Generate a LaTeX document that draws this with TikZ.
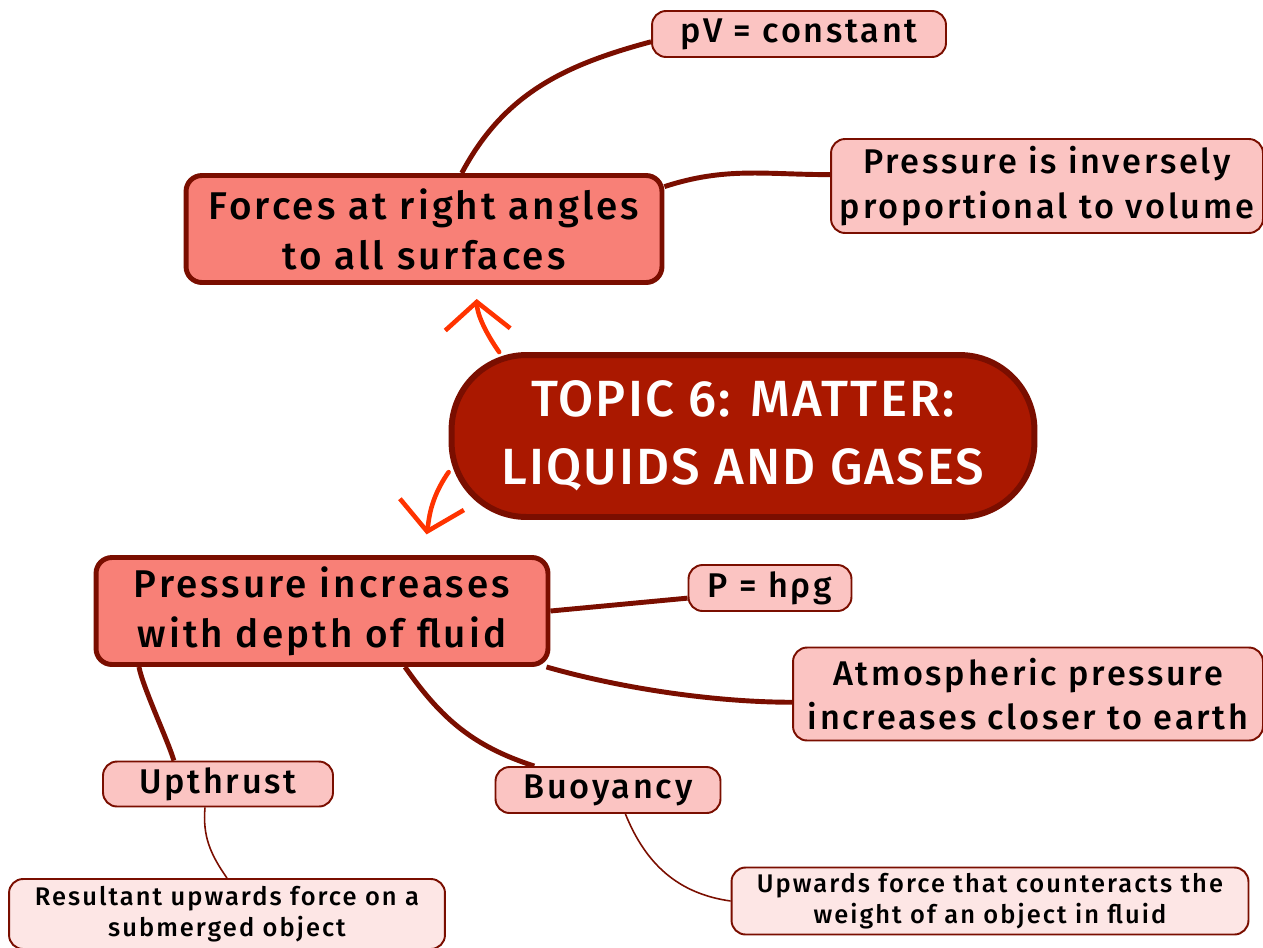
\documentclass[tikz,border=0pt]{standalone}
\usepackage{fontspec}
\setmainfont{Fira Sans}[LetterSpace=8,UprightFont=* Medium]
\usetikzlibrary{arrows.meta,positioning,calc,backgrounds}
\definecolor{maroon}{RGB}{122,14,0}
\definecolor{crimson}{RGB}{170,24,0}
\definecolor{salmon}{RGB}{248,128,119}
\definecolor{blush}{RGB}{251,196,194}
\definecolor{shell}{RGB}{253,230,229}
\definecolor{flame}{RGB}{255,51,0}
\tikzset{
  topic/.style={draw=maroon,fill=crimson,line width=3.4pt,rounded corners=1.5cm,text=white,
    align=center,inner sep=0pt,font=\fontsize{29}{38.5}\selectfont\addfontfeatures{LetterSpace=4}},
  branch/.style={draw=maroon,fill=salmon,line width=2.8pt,rounded corners=9pt,
    align=center,inner sep=0pt,font=\fontsize{22}{28.5}\selectfont},
  idea/.style={draw=maroon,fill=blush,line width=1.1pt,rounded corners=8pt,
    align=center,inner sep=0pt,font=\fontsize{19.5}{25.5}\selectfont},
  note/.style={draw=maroon,fill=shell,line width=1.1pt,rounded corners=8pt,
    align=center,inner sep=0pt,font=\fontsize{14.5}{18}\selectfont},
  limb/.style={draw=maroon,line width=2.8pt},
  twig/.style={draw=maroon,line width=0.9pt},
  pointer/.style={draw=flame,line width=2.6pt,line cap=round,
    -{Straight Barb[length=0.55cm,width=1.3cm,line width=2.6pt]}},
}

\begin{document}
\begin{tikzpicture}[x=0.02cm,y=-0.02cm]
  \useasboundingbox (0,0) rectangle (1263,947);
  % centre and main branches
  \node[topic,minimum width=11.66cm,minimum height=3.24cm] (topic) at (743,436) {TOPIC 6: MATTER:\\LIQUIDS AND GASES};
  \node[branch,minimum width=9.52cm,minimum height=2.14cm] (forces) at (424,229) {Forces at right angles\\to all surfaces};
  \node[branch,minimum width=9.04cm,minimum height=2.14cm] (depth) at (322,611) {Pressure increases\\with depth of fluid};
  % ideas
  \node[idea,minimum width=5.88cm,minimum height=0.92cm] (pv) at (799,34) {pV = constant};
  \node[idea,minimum width=8.64cm,minimum height=1.88cm] (inverse) at (1047,186) {Pressure is inversely\\proportional to volume};
  \node[idea,minimum width=3.26cm,minimum height=0.92cm] (hpg) at (770,588) {P = hρg};
  \node[idea,minimum width=9.4cm,minimum height=1.86cm] (atmos) at (1028,694) {Atmospheric pressure\\increases closer to earth};
  \node[idea,minimum width=4.6cm,minimum height=0.9cm] (upthrust) at (218,784) {Upthrust};
  \node[idea,minimum width=4.5cm,minimum height=0.92cm] (buoyancy) at (608,790) {Buoyancy};
  % notes
  \node[note,minimum width=8.72cm,minimum height=1.4cm] (resultant) at (227,914) {Resultant upwards force on a\\submerged object};
  \node[note,minimum width=10.34cm,minimum height=1.34cm] (counter) at (990,901) {Upwards force that counteracts the\\weight of an object in fluid};
  \begin{scope}[on background layer]
    \draw[limb] (forces.56) to[out=62,in=195] (pv.183);
    \draw[limb] (forces.10) to[out=18,in=180] (inverse.177);
    \draw[limb] (depth.east) -- (hpg.187);
    \draw[limb] (depth.-14.5) to[out=-16,in=180,looseness=0.8] (atmos.182);
    \draw[limb] (depth.-34) to[out=-55,in=162] (buoyancy.162);
    \draw[limb] (depth.197) to[out=-80,in=106,looseness=0.5] (upthrust.152);
    \draw[twig] (upthrust.241) to[out=-95,in=125] (resultant.north);
    \draw[twig] (buoyancy.-54) to[out=-68,in=172] (counter.west);
  \end{scope}
  \draw[pointer,shorten >=0.28cm] (topic.161) to[out=125,in=-88] (forces.-47);
  \draw[pointer,shorten >=0.42cm] (topic.187) to[out=235,in=80] (depth.29);
\end{tikzpicture}
\end{document}
